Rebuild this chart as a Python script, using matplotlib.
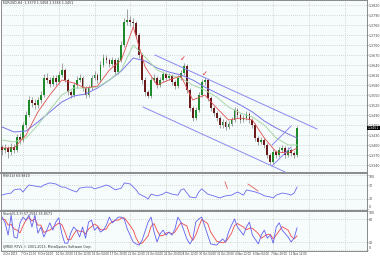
import matplotlib
matplotlib.use('Agg')
from matplotlib import pyplot as plt
from matplotlib import transforms

# H4 candles (open = previous close)
closes = [1.3385, 1.3391, 1.3379, 1.3394, 1.3385, 1.3424, 1.3415, 1.3460, 1.3490, 1.3535,
          1.3526, 1.3520, 1.3535, 1.3550, 1.3601, 1.3595, 1.3583, 1.3601, 1.3589, 1.3610,
          1.3625, 1.3595, 1.3559, 1.3550, 1.3580, 1.3595, 1.3601, 1.3571, 1.3550, 1.3571,
          1.3601, 1.3610, 1.3595, 1.3640, 1.3661, 1.3655, 1.3643, 1.3655, 1.3619, 1.3655,
          1.3700, 1.3769, 1.3775, 1.3769, 1.3766, 1.3730, 1.3670, 1.3595, 1.3559, 1.3547,
          1.3595, 1.3601, 1.3580, 1.3595, 1.3613, 1.3601, 1.3607, 1.3589, 1.3577, 1.3601,
          1.3616, 1.3637, 1.3565, 1.3511, 1.3481, 1.3505, 1.3550, 1.3589, 1.3595, 1.3541,
          1.3511, 1.3496, 1.3481, 1.3460, 1.3469, 1.3454, 1.3463, 1.3475, 1.3505, 1.3490,
          1.3475, 1.3481, 1.3493, 1.3475, 1.3460, 1.3421, 1.3409, 1.3415, 1.3400, 1.3370,
          1.3349, 1.3379, 1.3370, 1.3385, 1.3391, 1.3370, 1.3385, 1.3376, 1.3370, 1.3451]
highs = [1.3401, 1.3402, 1.3398, 1.3405, 1.3403, 1.3433, 1.3436, 1.3468, 1.3502, 1.3546,
         1.3544, 1.3538, 1.3545, 1.3562, 1.3613, 1.3616, 1.3604, 1.3610, 1.3609, 1.3622,
         1.3646, 1.3632, 1.3601, 1.3566, 1.3588, 1.3606, 1.3613, 1.3607, 1.3578, 1.3580,
         1.3609, 1.3622, 1.3617, 1.3651, 1.3672, 1.3670, 1.3662, 1.3664, 1.3661, 1.3663,
         1.3711, 1.3782, 1.3808, 1.3788, 1.3781, 1.3772, 1.3736, 1.3676, 1.3604, 1.3566,
         1.3604, 1.3612, 1.3607, 1.3603, 1.3622, 1.3620, 1.3616, 1.3613, 1.3596, 1.3609,
         1.3625, 1.3647, 1.3642, 1.3571, 1.3517, 1.3513, 1.3559, 1.3598, 1.3604, 1.3601,
         1.3548, 1.3518, 1.3503, 1.3488, 1.3478, 1.3476, 1.3471, 1.3483, 1.3514, 1.3511,
         1.3496, 1.3489, 1.3502, 1.3499, 1.3482, 1.3466, 1.3428, 1.3424, 1.3421, 1.3406,
         1.3376, 1.3387, 1.3386, 1.3394, 1.3399, 1.3397, 1.3393, 1.3391, 1.3383, 1.3458]
lows = [1.3370, 1.3376, 1.3362, 1.3371, 1.3377, 1.3380, 1.3404, 1.3409, 1.3452, 1.3484,
        1.3515, 1.3508, 1.3512, 1.3527, 1.3544, 1.3586, 1.3574, 1.3577, 1.3580, 1.3583,
        1.3603, 1.3588, 1.3550, 1.3540, 1.3544, 1.3572, 1.3588, 1.3563, 1.3541, 1.3543,
        1.3565, 1.3594, 1.3586, 1.3590, 1.3633, 1.3646, 1.3635, 1.3636, 1.3610, 1.3612,
        1.3649, 1.3694, 1.3760, 1.3758, 1.3755, 1.3721, 1.3661, 1.3583, 1.3548, 1.3541,
        1.3542, 1.3588, 1.3571, 1.3574, 1.3588, 1.3593, 1.3594, 1.3581, 1.3568, 1.3571,
        1.3595, 1.3610, 1.3556, 1.3502, 1.3472, 1.3475, 1.3499, 1.3544, 1.3580, 1.3532,
        1.3503, 1.3487, 1.3472, 1.3451, 1.3452, 1.3446, 1.3447, 1.3457, 1.3469, 1.3482,
        1.3467, 1.3468, 1.3476, 1.3467, 1.3451, 1.3413, 1.3400, 1.3402, 1.3392, 1.3361,
        1.3340, 1.3344, 1.3362, 1.3364, 1.3378, 1.3362, 1.3364, 1.3368, 1.3360, 1.3365]
opens = [1.3392] + closes[:-1]

# moving averages, sampled every 4 bars
ma_bars = [0, 4, 8, 12, 16, 20, 24, 28, 32, 36, 40, 44, 48, 52, 56, 60, 64, 68, 72, 76, 80, 84, 88, 92, 96, 99]
ma_fast = [1.3391, 1.3391, 1.3430, 1.3499, 1.3550, 1.3595, 1.3586, 1.3571, 1.3577, 1.3625, 1.3655, 1.3754, 1.3634,
           1.3580, 1.3595, 1.3607, 1.3535, 1.3550, 1.3511, 1.3475, 1.3481, 1.3475, 1.3421, 1.3379, 1.3376, 1.3391]
ma_mid = [1.3415, 1.3409, 1.3421, 1.3460, 1.3505, 1.3550, 1.3571, 1.3571, 1.3574, 1.3595, 1.3625, 1.3700, 1.3664,
          1.3625, 1.3610, 1.3601, 1.3580, 1.3565, 1.3544, 1.3514, 1.3496, 1.3484, 1.3460, 1.3421, 1.3400, 1.3400]
ma_slow = [1.3454, 1.3439, 1.3442, 1.3469, 1.3499, 1.3529, 1.3547, 1.3553, 1.3571, 1.3595, 1.3622, 1.3661, 1.3652,
           1.3631, 1.3619, 1.3610, 1.3595, 1.3574, 1.3556, 1.3538, 1.3520, 1.3499, 1.3472, 1.3451, 1.3433, 1.3421]

# drawn objects (bar, price)
chan_upper_bars = [51.3, 105.7]
chan_upper = [1.3670, 1.3448]
chan_lower_bars = [47.3, 95.0]
chan_lower = [1.3514, 1.3319]
small_a_bars = [90.6, 97.0]
small_a = [1.3400, 1.3457]
small_b_bars = [90.6, 97.0]
small_b = [1.3337, 1.3394]
check_bars = [60.7, 68.1]
check_prices = [1.3650, 1.3605]

price_ticks = [1.3340, 1.3370, 1.3400, 1.3430, 1.3460, 1.3490, 1.3520, 1.3550, 1.3580,
               1.3610, 1.3640, 1.3670, 1.3700, 1.3730, 1.3760, 1.3790, 1.3820]

rsi_bars = [0, 1, 3, 4, 6, 7, 8, 9, 11, 13, 14, 16, 18, 20, 21, 23, 25, 26, 28, 30, 31, 33, 35, 36, 38, 40,
            41, 43, 45, 46, 48, 49, 50, 52, 54, 55, 57, 59, 60, 61, 63, 65, 66, 67, 69, 71, 73, 75, 77, 79,
            81, 82, 85, 87, 88, 90, 91, 92, 94, 96, 97, 98, 99]
rsi = [41, 44, 47, 56, 59, 50, 61, 70, 67, 64, 70, 76, 73, 64, 64, 56, 50, 61, 64, 64, 59, 64, 70, 67, 56, 61,
       76, 73, 56, 44, 36, 30, 44, 39, 44, 50, 44, 41, 56, 59, 36, 33, 50, 59, 44, 39, 33, 39, 41, 50,
       41, 56, 50, 44, 39, 36, 33, 41, 47, 44, 41, 47, 64]
rsi_line_a_bars = [74.8, 75.6]
rsi_line_a = [79, 60]
rsi_line_b_bars = [82.5, 85.9]
rsi_line_b = [73, 53]

st_bars = list(range(0, 43)) + [44, 45, 46, 47, 49, 50, 51, 52, 53, 54, 55, 56, 57, 58, 59, 60,
                                62, 63, 64, 65, 66, 67, 69, 70, 72, 74, 75, 76, 77, 78, 79,
                                81, 82, 83, 84, 86, 87, 88, 89, 90, 91, 92, 93, 94, 96, 97, 98, 99]
st_k = [85, 70, 38, 90, 33, 30, 70, 85, 77, 90, 59, 90, 43, 59, 33, 51, 70, 51, 72, 83, 43, 17, 17, 43, 59,
        51, 33, 59, 30, 72, 77, 51, 59, 46, 51, 64, 85, 70, 77, 85, 85, 80, 54,
        20, 15, 12, 25, 72, 85, 46, 20, 41, 51, 38, 46, 38, 54, 85, 72,
        28, 15, 28, 72, 80, 85, 38, 15, 12, 28, 20, 46, 64, 80, 59,
        38, 59, 72, 38, 15, 38, 51, 30, 38, 17, 59, 70, 51, 33, 20, 30, 57]
st_d = [80, 78, 64, 66, 54, 51, 44, 62, 77, 84, 75, 80, 64, 64, 45, 48, 51, 57, 64, 69, 66, 48, 26, 26, 40,
        51, 48, 48, 41, 54, 60, 67, 62, 52, 52, 54, 67, 73, 77, 77, 82, 83, 73,
        51, 30, 16, 17, 36, 61, 68, 50, 36, 37, 43, 45, 41, 46, 59, 70,
        62, 38, 24, 38, 60, 79, 68, 46, 22, 18, 20, 31, 43, 63, 68,
        59, 52, 56, 56, 42, 30, 35, 40, 40, 28, 38, 49, 60, 51, 35, 28, 36]

date_labels = ['4 Oct 2013', '7 Oct 12:00', '9 Oct 04:00', '10 Oct 20:00', '14 Oct 12:00', '16 Oct 04:00',
               '17 Oct 20:00', '21 Oct 12:00', '23 Oct 04:00', '24 Oct 20:00', '28 Oct 12:00', '30 Oct 04:00',
               '31 Oct 20:00', '4 Nov 12:00', '6 Nov 04:00', '7 Nov 20:00', '11 Nov 12:00']

BG = '#f6fbfb'
GRID = '#b4b4b4'
FS = 2.3

fig = plt.figure(figsize=(3.8, 2.56), dpi=100, facecolor='white')
L, W = 0.003, 0.963
ax = fig.add_axes([L, 0.3242, W, 0.6758])
ax_rsi = fig.add_axes([L, 0.1758, W, 0.1484], sharex=ax)
ax_st = fig.add_axes([L, 0.0195, W, 0.1563], sharex=ax)

for a in (ax, ax_rsi, ax_st):
    a.set_facecolor(BG)
    for s in a.spines.values():
        s.set_color('#8a8a8a')
        s.set_linewidth(0.7)
    a.yaxis.tick_right()
    a.tick_params(axis='y', labelsize=FS, length=1, width=0.4, pad=0.5, colors='#444444')
    a.tick_params(axis='x', length=0, labelbottom=False)
    a.set_xticks([7 + 12 * k for k in range(10)])
    a.grid(True, axis='x', linestyle=(0, (1, 2)), color=GRID, lw=0.5)
ax.spines['bottom'].set_linewidth(1.4)
ax_rsi.spines['bottom'].set_linewidth(1.4)
ax.set_xlim(-0.34, 122.5)

# candles
n = len(closes)
idx = list(range(n))
ax.vlines(idx, lows, highs, color='#808080', lw=0.5, zorder=2)
up_i = [i for i in idx if closes[i] >= opens[i]]
dn_i = [i for i in idx if closes[i] < opens[i]]
ax.bar(up_i, [closes[i] - opens[i] + 0.00008 for i in up_i], bottom=[opens[i] for i in up_i],
       width=0.6, color='#1f8a2a', zorder=3)
ax.bar(dn_i, [opens[i] - closes[i] + 0.00008 for i in dn_i], bottom=[closes[i] for i in dn_i],
       width=0.6, color='#6a1a1a', zorder=3)

ax.plot(ma_bars, ma_slow, color='#7878e8', lw=0.7, zorder=4)
ax.plot(ma_bars, ma_mid, color='#a8d8a8', lw=0.7, zorder=4)
ax.plot(ma_bars, ma_fast, color='#e05050', lw=0.6, zorder=4)
for bx, by in ((chan_upper_bars, chan_upper), (chan_lower_bars, chan_lower),
               (small_a_bars, small_a), (small_b_bars, small_b)):
    ax.plot(bx, by, color='#8a8af0', lw=0.7, zorder=4)
for bx, by in zip(check_bars, check_prices):
    ax.text(bx, by, '\u2713', color='#e02020', fontsize=5, ha='center', va='bottom', zorder=5)

ax.set_ylim(1.3316, 1.3835)
ax.set_yticks(price_ticks)
ax.set_yticklabels(['%.4f' % p for p in price_ticks])
ax.grid(True, axis='y', linestyle=(0, (1, 2)), color=GRID, lw=0.5)
ax.text(0.005, 0.995, 'EURUSD,H4  1.3370 1.3458 1.3365 1.3451', transform=ax.transAxes,
        fontsize=FS, va='top', ha='left', color='#333333')
tr = transforms.blended_transform_factory(ax.transAxes, ax.transData)
ax.text(1.002, closes[-1], '%.4f' % closes[-1], transform=tr, fontsize=FS, color='white',
        va='center', ha='left', bbox=dict(boxstyle='square,pad=0.1', fc='black', ec='none'),
        clip_on=False, zorder=6)

# RSI
ax_rsi.plot(rsi_bars, rsi, color='#6a6af0', lw=0.6)
ax_rsi.plot(rsi_line_a_bars, rsi_line_a, color='#e04040', lw=0.5)
ax_rsi.plot(rsi_line_b_bars, rsi_line_b, color='#e04040', lw=0.5)
ax_rsi.set_ylim(-4.3, 104.3)
ax_rsi.set_yticks([0, 30, 70, 100])
ax_rsi.grid(True, axis='y', linestyle=(0, (1, 2)), color=GRID, lw=0.5)
ax_rsi.text(0.005, 0.97, 'RSI(14) 63.9820', transform=ax_rsi.transAxes, fontsize=FS,
            va='top', ha='left', color='#333333')
rl = ax_rsi.get_yticklabels()
rl[0].set_va('bottom')
rl[-1].set_va('top')

# Stochastic
ax_st.plot(st_bars, st_d, color='#f04848', lw=0.6)
ax_st.plot(st_bars, st_k, color='#6060f0', lw=0.6)
ax_st.set_ylim(-3.5, 100.9)
ax_st.set_yticks([0, 20, 80, 100])
ax_st.grid(True, axis='y', linestyle=(0, (1, 2)), color=GRID, lw=0.5)
ax_st.text(0.005, 0.97, 'Stoch(5,3,3) 57.2581 35.8571', transform=ax_st.transAxes, fontsize=FS,
           va='top', ha='left', color='#333333')
ax_st.text(0.005, 0.04, '(JMEE) RTVL \u00a9 2001-2013, MetaQuotes Software Corp.', transform=ax_st.transAxes,
           fontsize=FS, va='bottom', ha='left', color='#333333')
sl = ax_st.get_yticklabels()
sl[-1].set_va('top')
sl[0].set_va('bottom')

trx = transforms.blended_transform_factory(ax_st.transData, ax_st.transAxes)
for k, lab in enumerate(date_labels):
    ax_st.text(6 * k + 0.2, -0.02, lab, transform=trx, fontsize=1.9, va='top', ha='left',
               color='#333333', clip_on=False)

fig.savefig('out.png', dpi=100, facecolor='white')
